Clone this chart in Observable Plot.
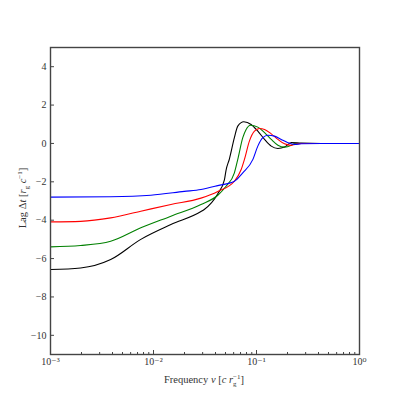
<!DOCTYPE html>
<html><head><meta charset="utf-8">
<script src="https://cdn.jsdelivr.net/npm/d3@7"></script>
<script src="https://cdn.jsdelivr.net/npm/@observablehq/plot@0.6"></script>
<style>body{margin:0;background:#fff}</style>
</head><body><div id="chart"></div>
<script>
// Frequency (c r_g^-1) and lag (r_g c^-1) for each curve
const freqBlack = [0.001,0.00196,0.00384,0.00753,0.01476,0.0289,0.0311,0.0421,0.0488,0.0506,0.0546,0.0610,0.0658,0.0753,0.0887,0.1030,0.1197,0.1390,0.1614,0.1871,0.2178,0.272,0.427,1];
const lagBlack  = [-6.57,-6.49,-6.05,-5.0,-4.23,-3.55,-3.44,-2.62,-1.9,-1.4,-0.8,0.3,0.9,1.13,0.99,0.64,0.21,-0.14,-0.26,-0.19,0.05,0.02,0,0];

const freqGreen = [0.001,0.00196,0.00384,0.00753,0.01476,0.0289,0.0421,0.0506,0.0610,0.0658,0.0736,0.0793,0.0873,0.1030,0.1197,0.1390,0.1614,0.1871,0.2178,0.2344,0.427,1];
const lagGreen  = [-5.39,-5.32,-5.1,-4.4,-3.79,-3.18,-2.7,-2.23,-1.53,-0.83,0.3,0.73,0.95,0.85,0.56,0.21,-0.09,-0.19,-0.09,0,0,0];

const freqRed = [0.001,0.00196,0.00384,0.00753,0.01476,0.0289,0.0421,0.0610,0.0710,0.0764,0.0853,0.0955,0.1069,0.1197,0.1390,0.1614,0.1871,0.2178,0.2344,0.272,0.427,1];
const lagRed  = [-4.09,-4.06,-3.88,-3.53,-3.18,-2.85,-2.5,-1.97,-1.36,-0.83,0.12,0.64,0.78,0.73,0.5,0.21,-0.02,-0.1,-0.05,0,0,0];

const freqBlue = [0.001,0.00384,0.00942,0.01986,0.0289,0.0421,0.0610,0.0736,0.0923,0.1030,0.1153,0.1291,0.1496,0.1738,0.2018,0.2344,0.272,0.427,1];
const lagBlue  = [-2.8,-2.78,-2.7,-2.5,-2.4,-2.2,-1.97,-1.53,-0.83,-0.14,0.3,0.43,0.38,0.21,0.04,-0.05,-0.02,0,0];

const xMajorTicks = [0.001,0.01,0.1,1];
const xTickLabels = ["10\u207B\u00B3","10\u207B\u00B2","10\u207B\u00B9","10\u2070"];
const yTicks = [-10,-8,-6,-4,-2,0,2,4];

const series = [
  {name:"black", color:"#000000", f:freqBlack, v:lagBlack},
  {name:"green", color:"#008000", f:freqGreen, v:lagGreen},
  {name:"red",   color:"#ff0000", f:freqRed,   v:lagRed},
  {name:"blue",  color:"#0000ff", f:freqBlue,  v:lagBlue}
];
const rows = series.map(s => s.f.map((f,i)=>({f, v:s.v[i], s:s.name, c:s.color})));

const xMinorTicks = [];
for (const d of [0.001,0.01,0.1]) for (let k=2;k<=9;k++) xMinorTicks.push(+(d*k).toPrecision(3));

const font = "'Liberation Serif', 'DejaVu Serif', serif";
const chart = Plot.plot({
  width: 399, height: 399,
  marginLeft: 50, marginRight: 40, marginTop: 47, marginBottom: 45,
  style: {fontFamily: font, fontSize: "10px", color: "#333", background: "#fff"},
  x: {type: "log", domain: [0.001, 1], label: null},
  y: {domain: [-11, 5], label: null},
  marks: [
    ...rows.map(r => Plot.line(r, {x:"f", y:"v", stroke: r[0].c, strokeWidth: 1.1, curve: "monotone-x"})),
    Plot.axisX(xMinorTicks, {tickSize: -2, text: null, stroke: "#444", label: null}),
    Plot.axisX(xMajorTicks, {tickSize: -4, text: null, stroke: "#444", label: null}),
    Plot.text(xMajorTicks, {x: d => d, frameAnchor: "bottom", dy: 10, text: (d, i) => xTickLabels[i], fontSize: 10, fill: "#333"}),
    Plot.axisY(yTicks, {tickSize: -4, text: null, stroke: "#444", label: null}),
    Plot.axisY(yTicks, {tickSize: 0, tickPadding: 4, label: null, fontSize: 10}),
    Plot.frame({stroke: "#444", strokeWidth: 1.4})
  ]
});
document.getElementById("chart").appendChild(chart);

// axis titles with sub/superscripts
const svg = d3.select(chart);
const xl = svg.append("text").attr("x", 204).attr("y", 383).attr("text-anchor","middle")
  .attr("font-family", font).attr("font-size", 10.5).attr("fill","#333");
xl.append("tspan").text("Frequency ");
xl.append("tspan").attr("font-style","italic").text("\u03BD");
xl.append("tspan").text(" [");
xl.append("tspan").attr("font-style","italic").text("c r");
xl.append("tspan").attr("font-size",7).attr("dy",2.5).text("g");
xl.append("tspan").attr("font-size",7).attr("dy",-6.5).attr("dx",-3.5).text("\u22121");
xl.append("tspan").attr("dy",4).text("]");

const yl = svg.append("text").attr("transform","translate(26,198) rotate(-90)").attr("text-anchor","middle")
  .attr("font-family", font).attr("font-size", 10.5).attr("fill","#333");
yl.append("tspan").text("Lag \u0394");
yl.append("tspan").attr("font-style","italic").text("t");
yl.append("tspan").text(" [");
yl.append("tspan").attr("font-style","italic").text("r");
yl.append("tspan").attr("font-size",7).attr("dy",2.5).text("g");
yl.append("tspan").attr("dy",-2.5).text(" ");
yl.append("tspan").attr("font-style","italic").text("c");
yl.append("tspan").attr("font-size",7).attr("dy",-4).text("\u22121");
yl.append("tspan").attr("dy",4).text("]");
</script>
</body></html>
